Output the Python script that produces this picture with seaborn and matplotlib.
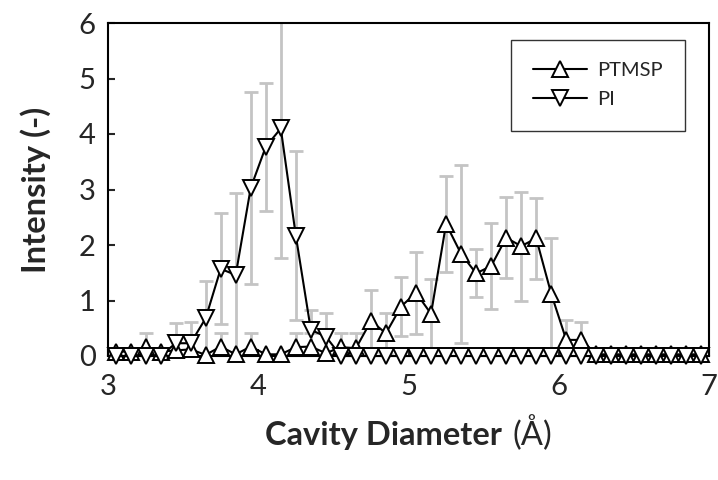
import numpy as np
import matplotlib
matplotlib.use("Agg")
import matplotlib.pyplot as plt
import seaborn as sns

# ---- data ----
diameter = [3.05, 3.15, 3.25, 3.35, 3.45, 3.55, 3.65, 3.75, 3.85, 3.95,
            4.05, 4.15, 4.25, 4.35, 4.45, 4.55, 4.65, 4.75, 4.85, 4.95,
            5.05, 5.15, 5.25, 5.35, 5.45, 5.55, 5.65, 5.75, 5.85, 5.95,
            6.05, 6.15, 6.25, 6.35, 6.45, 6.55, 6.65, 6.75, 6.85, 6.95]

ptmsp = [0.08, 0.08, 0.17, 0.08, 0.10, 0.12, 0.02, 0.17, 0.03, 0.17,
         0.03, 0.03, 0.16, 0.17, 0.05, 0.16, 0.14, 0.63, 0.41, 0.89,
         1.14, 0.76, 2.38, 1.84, 1.49, 1.62, 2.13, 1.98, 2.12, 1.12,
         0.29, 0.29, 0.03, 0.03, 0.03, 0.03, 0.03, 0.03, 0.03, 0.03]
ptmsp_err = [0, 0, 0.24, 0, 0, 0, 0, 0.24, 0, 0.24,
             0, 0, 0.26, 0.25, 0, 0.25, 0.27, 0.56, 0.37, 0.53,
             0.74, 0.63, 0.86, 1.60, 0.43, 0.77, 0.73, 0.98, 0.73, 1.01,
             0.35, 0.33, 0, 0, 0, 0, 0, 0, 0, 0]

pi = [0, 0, 0, 0, 0.23, 0.23, 0.68, 1.57, 1.46, 3.03,
      3.77, 4.10, 2.17, 0.47, 0.35, 0, 0, 0, 0, 0,
      0, 0, 0, 0, 0, 0, 0, 0, 0, 0,
      0, 0, 0, 0, 0, 0, 0, 0, 0, 0]
pi_err = [0, 0, 0, 0, 0.36, 0.39, 0.68, 1.00, 1.48, 1.73,
          1.15, 2.33, 1.52, 0.36, 0.42, 0, 0, 0, 0, 0,
          0, 0, 0, 0, 0, 0, 0, 0, 0, 0,
          0, 0, 0, 0, 0, 0, 0, 0, 0, 0]

xticks = [3, 4, 5, 6, 7]
yticks = [0, 1, 2, 3, 4, 5, 6]

# ---- style ----
sns.set_style("ticks")
plt.rcParams["font.family"] = ["Lato", "DejaVu Sans"]

fig = plt.figure(figsize=(7.18, 4.80), dpi=100)
ax = fig.add_axes([108 / 718, 1 - 356 / 480, (709 - 108) / 718, (356 - 23) / 480])

x = np.array(diameter)
err_kw = dict(fmt="none", ecolor="#c4c4c4", elinewidth=2, capsize=5, capthick=2, zorder=1)
for vals, errs in ((ptmsp, ptmsp_err), (pi, pi_err)):
    v = np.array(vals)
    e = np.array(errs)
    m = e > 0
    ax.errorbar(x[m], v[m], yerr=e[m], **err_kw)

line_kw = dict(color="black", linewidth=1.5, markersize=11.5, markerfacecolor="white",
               markeredgecolor="black", markeredgewidth=1.4, clip_on=False, ax=ax)
sns.lineplot(x=diameter, y=ptmsp, marker="^", label="PTMSP", zorder=3, **line_kw)
sns.lineplot(x=diameter, y=pi, marker="v", label="PI", zorder=4, **line_kw)

ax.set_xlim(3, 7)
ax.set_ylim(0, 6)
ax.set_xticks(xticks)
ax.set_yticks(yticks)
ax.tick_params(direction="in", length=5, width=1.5, labelsize=21)
ax.tick_params(axis="x", pad=13)
ax.tick_params(axis="y", pad=9)
for s in ax.spines.values():
    s.set_linewidth(1.5)
    s.set_color("black")

ax.set_ylabel("Intensity (-)", fontsize=23.5, fontweight="bold", labelpad=20)
ax.set_xlabel("")
fig.text(510 / 718, 1 - 445 / 480, "Cavity Diameter ", fontsize=23.5, fontweight="bold",
         ha="right", va="baseline")
fig.text(512 / 718, 1 - 445 / 480, "(Å)", fontsize=23.5, ha="left", va="baseline")

leg = ax.legend(loc="upper right", bbox_to_anchor=(0.96, 0.949), frameon=True,
                fancybox=False, edgecolor="black", fontsize=14.5, borderpad=1.1,
                labelspacing=0.6, handlelength=2.7, handletextpad=0.5, borderaxespad=0)
leg.get_frame().set_linewidth(1.0)
for h in leg.get_lines():
    h.set_markersize(11.5)

fig.savefig("out.png", dpi=100)
